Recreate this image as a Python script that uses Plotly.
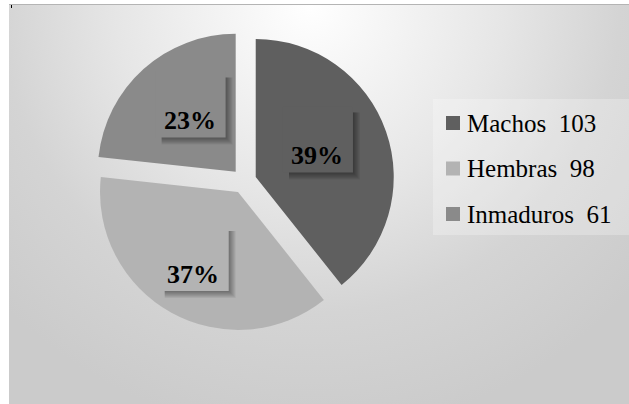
import base64
import math
import plotly.graph_objects as go

# ---- data -------------------------------------------------------------
labels = ["Machos", "Hembras", "Inmaduros"]
values = [103, 98, 61]
colors = ["#5f5f5f", "#b3b3b3", "#8a8a8a"]

# ---- canvas / geometry (pixels) --------------------------------------
W, H = 629, 404
CX, CY = 244, 181          # pie centre
R = 138                    # pie radius
PULL = 0.09                # explode fraction
label_depth = [0.47, 0.68, 0.50]   # radial position of the % boxes
FONT = "Liberation Serif, Times New Roman, serif"


def px(x):
    return x / W


def py(y):
    return 1 - y / H


half = R * (1 + PULL)
fig = go.Figure(
    go.Pie(
        labels=labels,
        values=values,
        marker=dict(colors=colors, line=dict(width=0)),
        sort=False,
        direction="clockwise",
        rotation=0,
        pull=[PULL] * len(values),
        textinfo="none",
        hoverinfo="skip",
        showlegend=False,
        domain=dict(x=[px(CX - half), px(CX + half)],
                    y=[py(CY + half), py(CY - half)]),
    )
)

# ---- background: soft radial gradient panel ---------------------------
BX0, BY0 = 9, 4
bw, bh = W - BX0, H - BY0
svg = f"""<svg xmlns='http://www.w3.org/2000/svg' width='{bw}' height='{bh}' viewBox='0 0 {bw} {bh}' preserveAspectRatio='none'>
<defs><radialGradient id='g' gradientUnits='userSpaceOnUse' cx='{310 - BX0}' cy='0' r='430'>
<stop offset='0' stop-color='#ffffff'/>
<stop offset='0.45' stop-color='#e6e6e6'/>
<stop offset='0.72' stop-color='#d4d4d4'/>
<stop offset='1' stop-color='#cbcbcb'/>
</radialGradient></defs>
<rect x='0' y='0' width='{bw}' height='{bh}' fill='url(#g)'/>
</svg>"""
src = "data:image/svg+xml;base64," + base64.b64encode(svg.encode()).decode()

images = [dict(source=src, xref="paper", yref="paper", x=px(BX0), y=py(BY0),
               sizex=bw / W, sizey=bh / H, xanchor="left", yanchor="top",
               sizing="stretch", layer="below")]

shapes = [
    dict(type="line", xref="paper", yref="paper", x0=px(BX0), x1=1,
         y0=py(BY0 + 0.5), y1=py(BY0 + 0.5), line=dict(color="#b4b4b4", width=1)),
    dict(type="line", xref="paper", yref="paper", x0=px(11.5), x1=px(11.5),
         y0=py(5), y1=py(8), line=dict(color="#000000", width=1)),
]
annotations = []

# ---- percentage boxes with a soft drop shadow (right / bottom) --------
total = sum(values)
cum = 0.0
for v, c, depth in zip(values, colors, label_depth):
    mid = (cum + v / 2) / total * 2 * math.pi
    cum += v
    off = PULL * R + depth * R
    tx = CX + off * math.sin(mid)
    ty = CY - off * math.cos(mid)
    x0, x1 = tx - 34, tx + 36
    y0, y1 = ty - 49, ty + 17
    for e in range(6, -1, -1):
        shapes.append(dict(type="rect", xref="paper", yref="paper",
                           x0=px(x0 + 6), x1=px(x1 + 1 + e),
                           y0=py(y0 + 6), y1=py(y1 + 1 + e),
                           fillcolor="rgba(0,0,0,0.06)", line=dict(width=0)))
    shapes.append(dict(type="rect", xref="paper", yref="paper",
                       x0=px(x0), x1=px(x1), y0=py(y0), y1=py(y1),
                       fillcolor=c, line=dict(width=0)))
    annotations.append(dict(
        xref="paper", yref="paper", x=px(tx), y=py(ty), showarrow=False,
        xanchor="center", yanchor="middle",
        text=f"<b>{round(v / total * 100)}%</b>",
        font=dict(family=FONT, size=26, color="#000000")))

# ---- legend ------------------------------------------------------------
LX0, LY0, LX1, LY1 = 433, 99, W, 235
shapes.append(dict(type="rect", xref="paper", yref="paper",
                   x0=px(LX0), x1=px(LX1), y0=py(LY0), y1=py(LY1),
                   fillcolor="rgba(255,255,255,0.25)", line=dict(width=0)))
ROW0, ROW_GAP, SQ = 123, 45.5, 14
for i, (lab, v, c) in enumerate(zip(labels, values, colors)):
    yc = ROW0 + i * ROW_GAP
    shapes.append(dict(type="rect", xref="paper", yref="paper",
                       x0=px(446), x1=px(446 + SQ),
                       y0=py(yc - SQ / 2), y1=py(yc + SQ / 2),
                       fillcolor=c, line=dict(width=0)))
    annotations.append(dict(
        xref="paper", yref="paper", x=px(465), y=py(yc), showarrow=False,
        xanchor="left", yanchor="middle",
        text=f"{lab}\u00a0\u00a0{v}",
        font=dict(family=FONT, size=25, color="#000000")))

fig.update_layout(
    width=W, height=H,
    margin=dict(l=0, r=0, t=0, b=0),
    paper_bgcolor="#ffffff",
    plot_bgcolor="rgba(0,0,0,0)",
    images=images,
    shapes=shapes,
    annotations=annotations,
    showlegend=False,
)

fig.write_html("out.html")
